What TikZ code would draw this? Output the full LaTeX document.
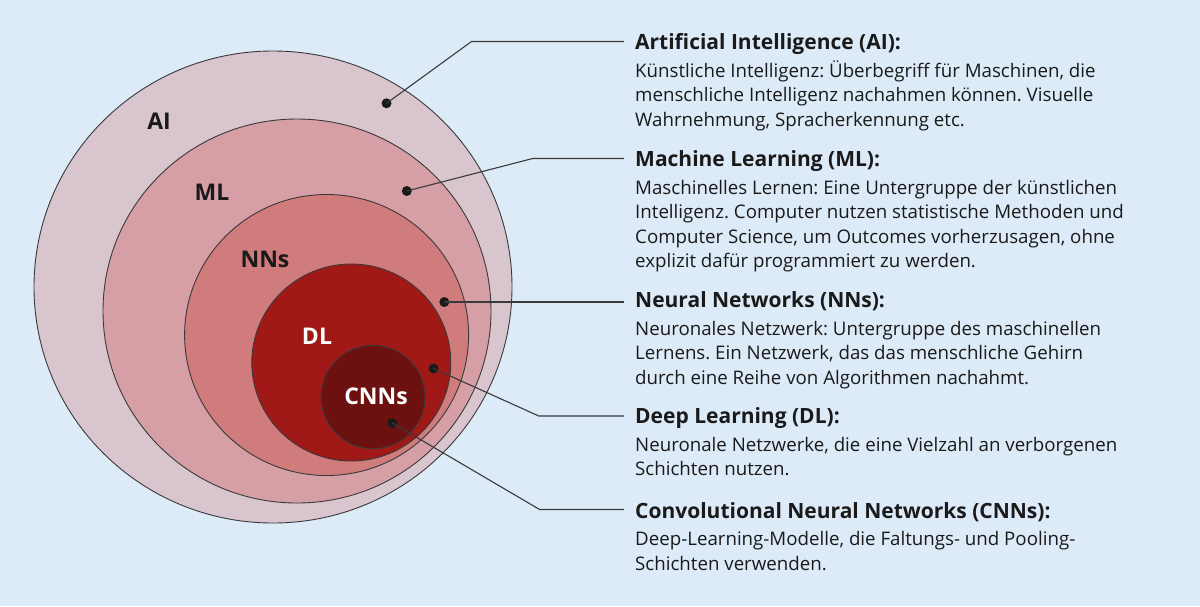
\documentclass[tikz,border=0pt]{standalone}
\usepackage{fontspec}
\setmainfont{Open Sans}
\frenchspacing
\definecolor{bg}{HTML}{DDEBF8}
\definecolor{cAI}{HTML}{D9C5CE}
\definecolor{cML}{HTML}{D59FA5}
\definecolor{cNN}{HTML}{D07B7C}
\definecolor{cDL}{HTML}{A01916}
\definecolor{cCNN}{HTML}{6C110F}
\definecolor{ink}{HTML}{1A1A1A}
\definecolor{edge}{HTML}{3A3A3A}
\begin{document}
\begin{tikzpicture}[x=1pt,y=-1pt,
  ring/.style={draw=edge,line width=0.9pt},
  lbl/.style={font=\fontsize{23}{26}\selectfont\bfseries,inner sep=0},
  dot/.style={circle,fill=ink,inner sep=0,minimum size=10pt},
  lead/.style={draw=edge,line width=1.1pt},
  head/.style={anchor=base west,inner sep=0,text=ink,font=\fontsize{21}{24}\selectfont\bfseries\frenchspacing},
  body/.style={anchor=base west,inner sep=0,text=ink,font=\fontsize{18.7}{24}\selectfont\frenchspacing}]
\fill[bg] (0,0) rectangle (1200,606);
\useasboundingbox (0,0) rectangle (1200,606);
% rings
\draw[ring,fill=cAI] (273,287) ellipse [x radius=239pt,y radius=236pt];
\draw[ring,fill=cML] (297,311) ellipse [x radius=194pt,y radius=192pt];
\draw[ring,fill=cNN] (326.6,335) ellipse [x radius=142pt,y radius=140.5pt];
\draw[ring,fill=cDL] (351.3,362.5) ellipse [x radius=99.5pt,y radius=98.5pt];
\draw[ring,fill=cCNN] (373,397) ellipse [x radius=52pt,y radius=51.7pt];
% ring labels
\node[lbl,text=ink] (lAI) at (159,121) {AI};
\node[lbl,text=ink] (lML) at (212,192) {ML};
\node[lbl,text=ink] (lNN) at (265,259) {NNs};
\node[lbl,text=white] (lDL) at (317,336) {DL};
\node[lbl,text=white] (lCNN) at (376,396) {CNNs};
% dots
\node[dot] (dAI) at (386.5,103.3) {};
\node[dot] (dML) at (406.8,191) {};
\node[dot] (dNN) at (444.3,302) {};
\node[dot] (dDL) at (433.6,368.5) {};
\node[dot] (dCNN) at (392.3,423) {};
% bends and ends
\coordinate (bAI) at (471.5,41.5);
\coordinate (eAI) at (624,41.5);
\coordinate (bML) at (532.7,158.5);
\coordinate (eML) at (624,158.5);
\coordinate (eNN) at (624,302);
\coordinate (bDL) at (538.8,416);
\coordinate (eDL) at (624,416);
\coordinate (bCNN) at (539.6,509.5);
\coordinate (eCNN) at (624,509.5);
\draw[lead] (dAI.center) -- (bAI) -- (eAI);
\draw[lead] (dML.center) -- (bML) -- (eML);
\draw[lead] (dNN.center) -- (eNN);
\draw[lead] (dDL.center) -- (bDL) -- (eDL);
\draw[lead] (dCNN.center) -- (bCNN) -- (eCNN);
% texts
\node[head] (hAI) at (635,49.3) {Artificial Intelligence (AI):};
\node[body] (tAI1) at (635,77) {Künstliche Intelligenz: Überbegriff für Maschinen, die};
\node[body] (tAI2) at (635,101.5) {menschliche Intelligenz nachahmen können. Visuelle};
\node[body] (tAI3) at (635,126) {Wahrnehmung, Spracherkennung etc.};
\node[head] (hML) at (635,166.3) {Machine Learning (ML):};
\node[body] (tML1) at (635,194) {Maschinelles Lernen: Eine Untergruppe der künstlichen};
\node[body] (tML2) at (635,218.5) {Intelligenz. Computer nutzen statistische Methoden und};
\node[body] (tML3) at (635,243) {Computer Science, um Outcomes vorherzusagen, ohne};
\node[body] (tML4) at (635,267.5) {explizit dafür programmiert zu werden.};
\node[head] (hNN) at (635,307.3) {Neural Networks (NNs):};
\node[body] (tNN1) at (635,335) {Neuronales Netzwerk: Untergruppe des maschinellen};
\node[body] (tNN2) at (635,359.5) {Lernens. Ein Netzwerk, das das menschliche Gehirn};
\node[body] (tNN3) at (635,384) {durch eine Reihe von Algorithmen nachahmt.};
\node[head] (hDL) at (635,423.3) {Deep Learning (DL):};
\node[body] (tDL1) at (635,451) {Neuronale Netzwerke, die eine Vielzahl an verborgenen};
\node[body] (tDL2) at (635,475.5) {Schichten nutzen.};
\node[head] (hCNN) at (635,518.3) {Convolutional Neural Networks (CNNs):};
\node[body] (tCNN1) at (635,545.7) {Deep-Learning-Modelle, die Faltungs- und Pooling-};
\node[body] (tCNN2) at (635,570) {Schichten verwenden.};
\end{tikzpicture}
\end{document}
